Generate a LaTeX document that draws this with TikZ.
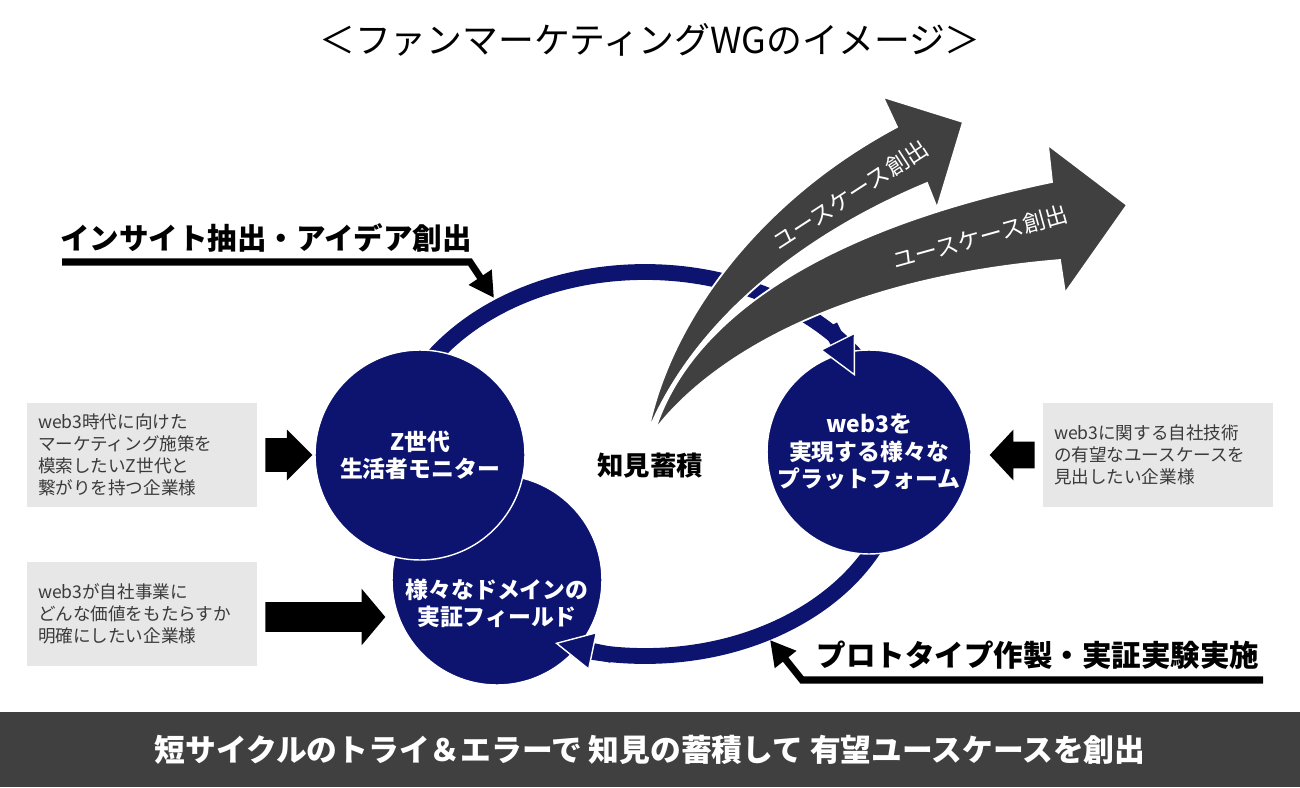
\documentclass[tikz,border=0pt]{standalone}
\usepackage{fontspec}
\setmainfont{Noto Sans CJK JP}
\usetikzlibrary{arrows.meta,shapes.arrows}
\definecolor{wgnavy}{RGB}{12,20,112}
\definecolor{wgdark}{RGB}{64,64,64}
\definecolor{wgbox}{RGB}{231,231,231}
\definecolor{wgtext}{RGB}{58,58,58}

\begin{document}
\begin{tikzpicture}[x=0.02cm, y=-0.02cm,
      ring/.style={line width=9pt, wgnavy},
      ringtip/.style={line width=9pt, wgnavy,
                      -{Triangle[length=7.8mm, width=7.8mm, line width=0.8pt, color=white, fill=wgnavy]}},
      circ/.style={circle, fill=wgnavy, draw=white, line width=0.8pt, inner sep=0pt,
                   minimum size=42mm, text=white, align=center,
                   font=\fontsize{13}{15.5}\selectfont\bfseries},
      circtxt/.style={text=white, align=center, font=\fontsize{13}{15.5}\selectfont\bfseries},
      infobox/.style={fill=wgbox, text=wgtext, align=left, text width=41.6mm, inner xsep=2.2mm,
                      minimum width=46mm, minimum height=20.8mm,
                      font=\fontsize{10}{12.5}\selectfont},
      blk/.style={single arrow, fill=black, inner xsep=0pt, anchor=tail},
      swoosh/.style={fill=wgdark, draw=white, line width=1pt, line join=miter},
      swtxt/.style={text=white, font=\fontsize{13}{15}\selectfont},
      lbl/.style={font=\fontsize{16.8}{20}\selectfont\bfseries},
      bent/.style={line width=4pt, -{Triangle[length=5mm, width=5.2mm]}}
    ]
    \useasboundingbox (0,0) rectangle (1300,787);

    \node[font=\fontsize{20.4}{24}\selectfont] (title) at (650,40) {＜ファンマーケティングWGのイメージ＞};
    \node[fill=wgdark, minimum width=26cm, minimum height=15mm, inner sep=0pt, text=white,
          font=\fontsize{17.5}{21}\selectfont\bfseries] (bar) at (650,749.5)
          {短サイクルのトライ＆エラーで 知見の蓄積して 有望ユースケースを創出};

    \node[infobox] (boxz) at (142,455) {web3時代に向けた\\マーケティング施策を\\模索したいZ世代と\\繋がりを持つ企業様};
    \node[infobox] (boxv) at (142,614) {web3が自社事業に\\どんな価値をもたらすか\\明確にしたい企業様};
    \node[infobox] (boxt) at (1158,455) {web3に関する自社技術\\の有望なユースケースを\\見出したい企業様};

    \node[blk, minimum height=9.4mm, inner ysep=3.3mm, single arrow head extend=1.7mm] (az) at (265,455) {};
    \node[blk, minimum height=24mm, inner ysep=2.9mm, single arrow head extend=2.7mm,
          single arrow tip angle=100] (av) at (265,617) {};
    \node[blk, minimum height=9mm, inner ysep=2.6mm, single arrow head extend=2.4mm,
          single arrow tip angle=94, shape border rotate=180] (at) at (1035,455) {};

    \draw[ring] (645,464) ellipse [x radius=255, y radius=192];

    \draw[swoosh] (648,432) .. controls (670,320) and (760,200) .. (897,127) -- (883,97) -- (963,122)
          -- (937,208) -- (927,183) .. controls (790,240) and (690,330) .. cycle;
    \draw[swoosh] (655,430) .. controls (690,320) and (820,230) .. (1052,182) -- (1048,145) -- (1127,205)
          -- (1065,293) -- (1060,260) .. controls (820,280) and (700,370) .. cycle;
    \node[swtxt, rotate=33] (uc1) at (850,195) {ユースケース創出};
    \node[swtxt, rotate=15.5] (uc2) at (980,237) {ユースケース創出};

    \node[circ] (domain) at (497,580) {};
    \node[circtxt] (domaintxt) at (497,603) {様々なドメインの\\実証フィールド};
    \node[circ] (zgen) at (420,455) {Z世代\\生活者モニター};
    \node[circ, minimum size=40.8mm] (web3) at (869,452) {web3を\\実現する様々な\\プラットフォーム};

    \draw[ringtip] (830,326) -- (855,376);
    \draw[ringtip] (612,655) -- (555,643);

    \node[font=\fontsize{15}{18}\selectfont\bfseries] (chiken) at (650,466) {知見蓄積};

    \node[lbl] (insight) at (266,238) {インサイト抽出・アイデア創出};
    \coordinate (ins0) at (62,262);
    \coordinate (ins1) at (470,262);
    \coordinate (ins2) at (494,298);
    \draw[bent] (ins0) -- (ins1) -- (ins2);

    \node[lbl] (proto) at (1038,655) {プロトタイプ作製・実証実験実施};
    \coordinate (pro0) at (1263,680);
    \coordinate (pro1) at (802,680);
    \coordinate (pro2) at (770,640);
    \draw[bent] (pro0) -- (pro1) -- (pro2);
  \end{tikzpicture}
\end{document}
